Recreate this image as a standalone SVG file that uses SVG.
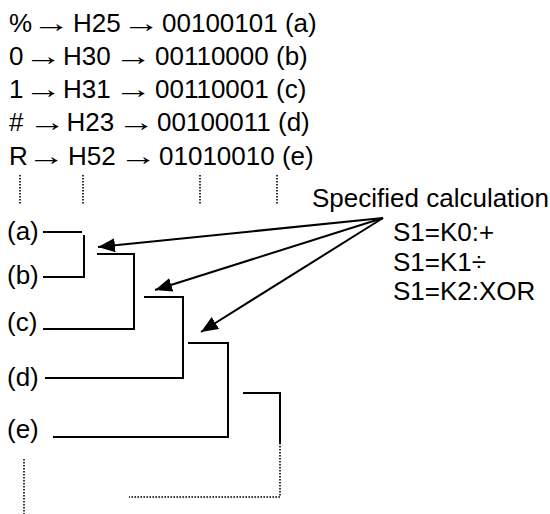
<svg xmlns="http://www.w3.org/2000/svg" width="550" height="514" viewBox="0 0 550 514">
<style>
text{font-family:"Liberation Sans",Arial,sans-serif;font-size:26px;fill:#000}
.s{stroke:#000;stroke-width:2;fill:none}
.d{stroke:#000;stroke-width:1.6;fill:none;stroke-dasharray:1.6 1.4}
.a{stroke:#000;stroke-width:2;fill:none;marker-end:url(#ah)}
</style>
<defs>
<marker id="ah" markerUnits="userSpaceOnUse" markerWidth="18" markerHeight="14" refX="17" refY="7" orient="auto">
<path d="M0,0 L17,7 L0,14 Z" fill="#000"/>
</marker>
</defs>
<rect width="550" height="514" fill="#fff"/>
<g id="row-a">
<text x="9" y="32">%</text>
<text x="32.4" y="32" textLength="38" lengthAdjust="spacingAndGlyphs">→</text>
<text x="73" y="32">H25</text>
<text x="122.4" y="32" textLength="38" lengthAdjust="spacingAndGlyphs">→</text>
<text x="162" y="32">00100101 (a)</text>
</g>
<g id="row-b">
<text x="9" y="65">0</text>
<text x="24.4" y="65" textLength="38" lengthAdjust="spacingAndGlyphs">→</text>
<text x="63" y="65">H30</text>
<text x="114.4" y="65" textLength="38" lengthAdjust="spacingAndGlyphs">→</text>
<text x="155" y="65">00110000 (b)</text>
</g>
<g id="row-c">
<text x="9" y="98">1</text>
<text x="24.4" y="98" textLength="38" lengthAdjust="spacingAndGlyphs">→</text>
<text x="63" y="98">H31</text>
<text x="114.4" y="98" textLength="38" lengthAdjust="spacingAndGlyphs">→</text>
<text x="155" y="98">00110001 (c)</text>
</g>
<g id="row-d">
<text x="9" y="131">#</text>
<text x="28.4" y="131" textLength="38" lengthAdjust="spacingAndGlyphs">→</text>
<text x="66.5" y="131">H23</text>
<text x="117.4" y="131" textLength="38" lengthAdjust="spacingAndGlyphs">→</text>
<text x="157" y="131">00100011 (d)</text>
</g>
<g id="row-e">
<text x="9" y="165">R</text>
<text x="27.6" y="165" textLength="38" lengthAdjust="spacingAndGlyphs">→</text>
<text x="68" y="165">H52</text>
<text x="119.4" y="165" textLength="38" lengthAdjust="spacingAndGlyphs">→</text>
<text x="159" y="165">01010010 (e)</text>
</g>
<g id="calc">
<text x="312" y="207">Specified calculation</text>
<text x="393" y="241">S1=K0:+</text>
<text x="393" y="271">S1=K1÷</text>
<text x="393" y="300">S1=K2:XOR</text>
</g>
<g id="labels">
<text x="7" y="240">(a)</text>
<text x="7" y="284">(b)</text>
<text x="7" y="331">(c)</text>
<text x="7" y="386">(d)</text>
<text x="7" y="438">(e)</text>
</g>
<g id="connectors">
<line class="d" x1="20" y1="175" x2="20" y2="205"/>
<line class="d" x1="83" y1="175" x2="83" y2="205"/>
<line class="d" x1="200" y1="175" x2="200" y2="205"/>
<line class="d" x1="277" y1="175" x2="277" y2="205"/>
<path class="s" d="M43,232 H82"/>
<path class="s" d="M43,277 H84 V235"/>
<path class="s" d="M97,254 H134 V329 H43"/>
<path class="s" d="M144,297 H183 V378 H45"/>
<path class="s" d="M188,343 H228 V437 H53"/>
<path class="s" d="M243,393 H280 V443"/>
<path class="d" d="M280,443 V497 H129"/>
<line class="d" x1="24" y1="459" x2="24" y2="514"/>
<line class="a" x1="383" y1="218" x2="98" y2="247"/>
<line class="a" x1="383" y1="218" x2="155" y2="290"/>
<line class="a" x1="383" y1="218" x2="201" y2="332"/>
</g>
</svg>
